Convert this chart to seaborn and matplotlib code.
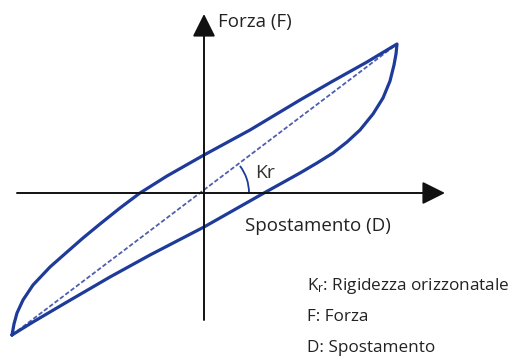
import matplotlib
matplotlib.use("Agg")
import matplotlib.pyplot as plt
import seaborn as sns
import pandas as pd
from matplotlib.patches import Arc

# Upper (loading) branch, bottom-left -> top-right
upper_x = [-192, -190, -187, -181, -171, -154, -137, -121, -104, -84, -64, -37, 0, 46, 96, 129, 163, 183, 193]
upper_y = [-142, -131, -120, -107, -92, -74, -59, -45, -31, -15, 0, 17, 38, 63, 93, 112, 131, 143, 149]
# Lower (unloading) branch, top-right -> bottom-left
lower_x = [193, 192, 190, 186, 179, 169, 156, 143, 129, 113, 96, 60, 30, 0, -54, -94, -137, -171, -192]
lower_y = [149, 139, 128, 112, 95, 79, 63, 51, 40, 30, 20, 0, -17, -34, -62, -84, -109, -129, -142]
# Secant stiffness line (Kr)
secant_x = [-192, 193]
secant_y = [-142, 149]

x_axis_label = "Spostamento (D)"
y_axis_label = "Forza (F)"
kr_label = "Kr"
legend_lines = [r"$\mathregular{K_r}$: Rigidezza orizzonatale", "F: Forza", "D: Spostamento"]

sns.set_style("white")
plt.rcParams["font.family"] = ["Open Sans", "DejaVu Sans"]
plt.rcParams["mathtext.fontset"] = "custom"
plt.rcParams["mathtext.rm"] = "Open Sans"
plt.rcParams["mathtext.it"] = "Open Sans"

loop = pd.DataFrame({"x": upper_x + lower_x, "y": upper_y + lower_y})
sec = pd.DataFrame({"x": secant_x, "y": secant_y})

fig = plt.figure(figsize=(5.16, 3.58), dpi=100)
ax = fig.add_axes([0, 0, 1, 1])
ax.set_xlim(-204, 312)
ax.set_ylim(-165, 193)
ax.axis("off")

blue = "#1e3b9a"
# axes with arrows
ax.annotate("", xy=(241, 0), xytext=(-187, 0),
            arrowprops=dict(arrowstyle="-|>,head_length=1.0,head_width=0.5",
                            mutation_scale=14, color="#111111", lw=1.4,
                            shrinkA=0, shrinkB=0))
ax.annotate("", xy=(0, 179), xytext=(0, -127),
            arrowprops=dict(arrowstyle="-|>,head_length=1.0,head_width=0.5",
                            mutation_scale=14, color="#111111", lw=1.4,
                            shrinkA=0, shrinkB=0))

sns.lineplot(data=sec, x="x", y="y", sort=False, estimator=None, ax=ax,
             color="#4e5fb0", lw=1.3, dashes=False, linestyle=(0, (2.5, 1.2)))
sns.lineplot(data=loop, x="x", y="y", sort=False, estimator=None, ax=ax,
             color=blue, lw=2.3, solid_joinstyle="round", solid_capstyle="round")

ax.add_patch(Arc((0, 0), 90, 90, theta1=0, theta2=37, color=blue, lw=1.3))

ax.set_xlabel("")
ax.set_ylabel("")

txt_color = "#222222"
ax.text(14, 171, y_axis_label, fontsize=13.5, color=txt_color, va="center", ha="left")
ax.text(41, -33, x_axis_label, fontsize=13.5, color=txt_color, va="center", ha="left")
ax.text(51, 20, kr_label, fontsize=14, color="#333333", va="center", ha="left")
for i, s in enumerate(legend_lines):
    ax.text(103, -93 - 31 * i, s, fontsize=12.3, color=txt_color, va="center", ha="left")

fig.savefig("out.png", dpi=100)
